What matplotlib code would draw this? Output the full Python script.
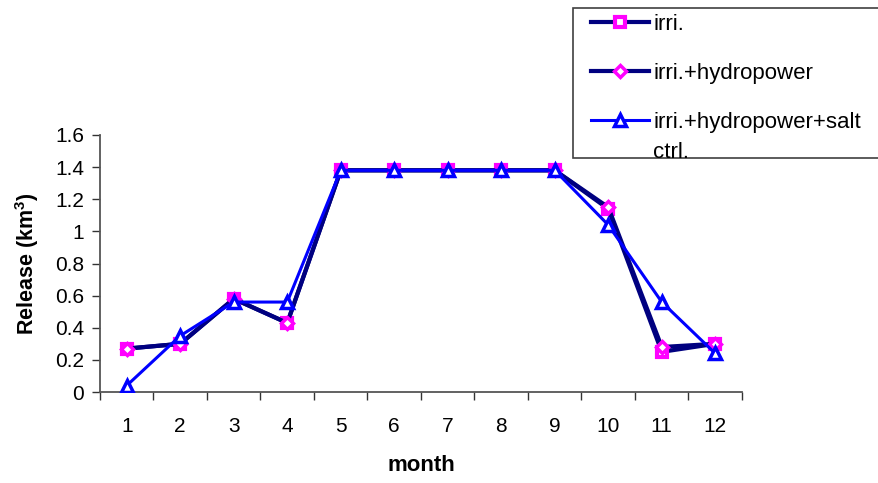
import matplotlib
matplotlib.use("Agg")
import matplotlib.pyplot as plt
from matplotlib.patches import Rectangle
import numpy as np

plt.rcParams['font.family'] = ['Liberation Sans', 'DejaVu Sans']
plt.rcParams['mathtext.fontset'] = 'custom'
plt.rcParams['mathtext.rm'] = 'Liberation Sans'
plt.rcParams['mathtext.bf'] = 'Liberation Sans:bold'

months = [1, 2, 3, 4, 5, 6, 7, 8, 9, 10, 11, 12]
month_labels = [str(m) for m in months]
irri = [0.27, 0.30, 0.58, 0.43, 1.38, 1.38, 1.38, 1.38, 1.38, 1.14, 0.25, 0.30]
irri_hydro = [0.27, 0.30, 0.58, 0.43, 1.38, 1.38, 1.38, 1.38, 1.38, 1.15, 0.28, 0.30]
irri_hydro_salt = [0.04, 0.35, 0.56, 0.56, 1.38, 1.38, 1.38, 1.38, 1.38, 1.04, 0.56, 0.24]
yticks = [0, 0.2, 0.4, 0.6, 0.8, 1, 1.2, 1.4, 1.6]
ytick_labels = ['0', '0.2', '0.4', '0.6', '0.8', '1', '1.2', '1.4', '1.6']
series_labels = ['irri.', 'irri.+hydropower', 'irri.+hydropower+salt', 'ctrl.']

W, H = 879, 483
fig = plt.figure(figsize=(W / 100, H / 100), dpi=100)
ax = fig.add_axes([100 / W, 1 - 392 / H, 642 / W, 257 / H])

l1, = ax.plot(months, irri, color='#000080', lw=3, marker='s', ms=7,
              mfc='white', mec='#FF00FF', mew=3, label=series_labels[0], zorder=3)
l2, = ax.plot(months, irri_hydro, color='#000080', lw=3, marker='D', ms=6,
              mfc='white', mec='#FF00FF', mew=2.5, label=series_labels[1], zorder=4)
l3, = ax.plot(months, irri_hydro_salt, color='#0000FF', lw=2.2, marker='^', ms=9,
              mfc='white', mec='#0000FF', mew=2.5, label=series_labels[2], zorder=5)

ax.set_xlim(0.5, 12.5)
ax.set_ylim(0, 1.6)
ax.set_yticks(yticks)
ax.set_yticklabels(ytick_labels, fontsize=15)
ax.set_xticks(np.arange(0.5, 13, 1))
ax.set_xticklabels([''] * 13)
ax.set_xticks(months, minor=True)
ax.set_xticklabels(month_labels, minor=True, fontsize=15)
ax.tick_params(axis='x', which='major', direction='out', length=5.5, width=1, color='#333333')
ax.tick_params(axis='x', which='minor', length=0, pad=18)
ax.tick_params(axis='y', direction='out', length=5.5, width=1, color='#333333', pad=6)
ax.spines['top'].set_visible(False)
ax.spines['right'].set_visible(False)
for s in ['left', 'bottom']:
    ax.spines[s].set_color('#555555')
    ax.spines[s].set_linewidth(1.3)

ax.set_xlabel('month', fontsize=16, fontweight='bold', labelpad=14)
ax.set_ylabel(r'Release (km$^\mathbf{3}$)', fontsize=15.5, fontweight='bold', labelpad=10)

# legend frame (extends past the right edge as in the reference)
fig.patches.append(Rectangle((573 / W, 1 - 158 / H), 320 / W, 150 / H,
                             transform=fig.transFigure, fill=True, facecolor='white',
                             edgecolor='#404040', lw=1.2, zorder=1))
leg = fig.legend(handles=[l1, l2, l3], loc='upper left',
                 bbox_to_anchor=(591 / W, 1 - 14 / H), fontsize=16, frameon=False,
                 labelspacing=1.25, handlelength=2.6, handletextpad=0.2,
                 borderpad=0, borderaxespad=0)

fig.canvas.draw()
r = fig.canvas.get_renderer()
bb = leg.get_texts()[2].get_window_extent(r)
baseline = bb.y0 + 0.21 * 16 * 100 / 72
fig.text(bb.x0 / W, (baseline - 30) / H, series_labels[3], fontsize=16,
         va='baseline', ha='left')

fig.savefig('out.png', dpi=100)
